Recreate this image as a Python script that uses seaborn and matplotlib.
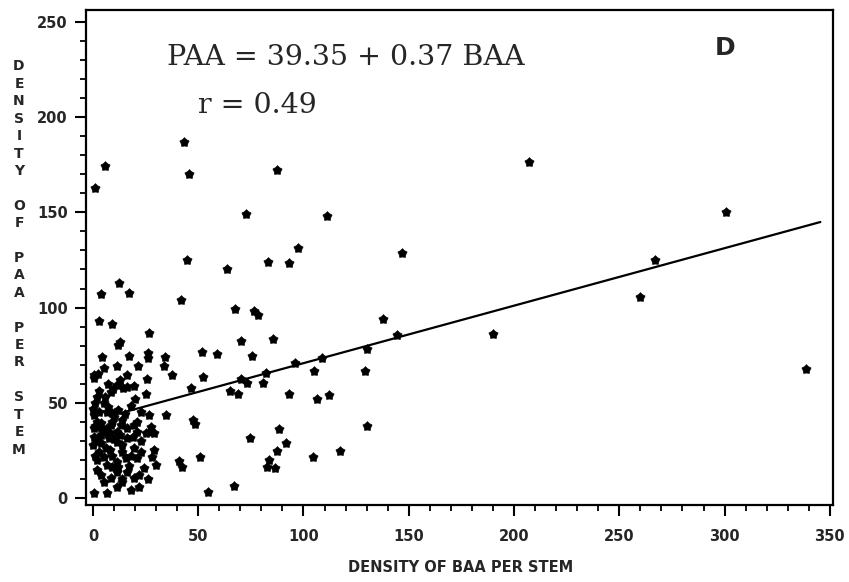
import numpy as np
import pandas as pd
import matplotlib
matplotlib.use("Agg")
import matplotlib.pyplot as plt
import seaborn as sns
from matplotlib.ticker import MultipleLocator

# ---------------- data ----------------
baa_values = [
    # scattered points
    43.2, 45.6, 87.2, 72.6, 111.0, 44.8, 97.5, 83.2, 93.1, 63.5, 147.0, 41.8,
    67.7, 76.6, 78.5, 137.8, 144.2, 190.1, 70.4, 85.3, 51.6, 58.7, 75.5, 130.0,
    96.1, 108.9, 37.4, 52.4, 82.1, 104.9, 129.2, 70.1, 73.4, 80.9, 46.4, 65.0,
    68.7, 93.2, 106.2, 112.2, 47.6, 48.4, 130.0, 74.5, 88.5, 91.6, 87.5, 83.7,
    82.5, 86.4, 104.3, 117.3, 41.0, 42.1, 50.8, 54.8, 67.0,
    207.0, 300.9, 266.9, 259.7, 338.6,
    5.7, 1.0, 12.3, 3.9, 17.1, 2.8, 9.2, 26.6,
    # dense cluster near the origin
    12.8, 12.0, 4.1, 17.1, 26.3, 26.3, 34.4, 33.6, 5.3, 11.2, 21.3,
    0.5, 2.5, 16.2, 25.6, 0.3, 19.3, 14.4, 9.6, 16.3, 11.5, 8.4, 25.1, 2.0, 5.5,
    5.2, 18.2, 0.0, 26.5, 34.6, 8.9, 6.8, 0.5, 10.0,
    3.7, 8.4, 13.1, 19.5, 27.4, 0.3, 16.3, 5.2, 11.5, 21.0, 25.0, 29.0, 27.0,
    0.5, 7.6, 16.3, 11.5, 3.7, 0.0, 2.0, 4.0, 6.0, 2.0, 9.0, 14.0, 13.0, 19.0, 23.0,
    19.5, 29.0, 28.2, 29.8, 5.2, 2.0, 6.8, 2.0, 11.5, 15.5, 21.0, 24.2, 11.5,
    16.3, 19.5, 8.4, 13.9, 21.8, 11.5, 5.2, 0.5, 6.5, 17.9,
    3.0, 8.0, 14.0, 17.0, 22.0, 26.0, 9.0, 4.0, 14.0, 18.0, 23.0,
    1.0, 3.0, 7.0, 12.0, 1.0, 4.0, 8.0, 10.0, 14.0, 6.0, 1.0, 9.0, 12.0,
    3.0, 7.0, 13.0, 20.0, 23.0, 21.0, 15.0,
]
paa_values = [
    187.1, 170.2, 172.3, 149.2, 148.3, 125.0, 131.5, 124.1, 123.2, 120.1, 128.5, 104.0,
    99.3, 98.4, 95.9, 93.8, 85.6, 86.0, 82.6, 83.7, 76.5, 75.5, 74.6, 78.1,
    70.7, 73.7, 64.6, 63.7, 65.8, 66.7, 66.7, 62.3, 60.6, 60.6, 57.6, 56.4,
    54.6, 54.6, 52.0, 53.9, 41.0, 38.7, 38.0, 31.7, 36.1, 29.1, 24.9, 20.0,
    16.5, 15.9, 21.7, 24.9, 19.4, 16.5, 21.7, 3.3, 6.3,
    176.5, 150.0, 125.0, 105.7, 67.6,
    174.4, 163.0, 113.1, 107.0, 107.8, 93.1, 91.2, 86.5,
    82.1, 80.5, 74.2, 74.4, 76.0, 73.4, 74.0, 69.2, 68.5, 69.4, 69.4,
    64.5, 65.0, 64.6, 62.4, 63.0, 58.6, 57.6, 57.1, 58.5, 59.3, 55.8, 54.8, 53.2, 53.2,
    49.7, 48.5, 46.5, 43.8, 43.8, 44.5, 45.3, 43.6, 42.7,
    39.2, 38.3, 38.3, 38.3, 37.5, 36.6, 36.6, 34.8, 34.8, 34.8, 34.0, 34.0, 34.5,
    32.2, 31.3, 31.3, 29.6, 28.7, 27.8, 30.0, 33.0, 36.0, 40.0, 40.0, 41.0, 33.0, 32.0, 30.0,
    26.1, 25.2, 21.7, 17.3, 21.7, 20.0, 17.3, 14.7, 19.1, 20.8, 20.8, 15.6, 13.8,
    13.8, 10.3, 10.3, 8.6, 5.9, 5.9, 8.6, 2.5, 2.5, 4.2,
    24.0, 25.0, 24.0, 17.0, 12.0, 10.0, 16.0, 12.0, 10.0, 22.0, 24.0,
    50.0, 45.0, 48.0, 46.0, 38.0, 37.0, 34.0, 31.0, 28.0, 26.0, 22.0, 22.0, 16.0,
    56.0, 60.0, 62.0, 52.0, 45.0, 40.0, 44.0,
]

# drawn regression line
fit_intercept = 40.6
fit_slope = 0.302
fit_baa_range = [10.0, 345.5]

x_ticks = [0, 50, 100, 150, 200, 250, 300, 350]
y_ticks = [0, 50, 100, 150, 200, 250]

equation_text = "PAA = 39.35 + 0.37 BAA"
r_text = "r = 0.49"
panel_text = "D"
x_title = "DENSITY OF BAA PER STEM"
y_title = "DENSITY OF PAA PER STEM"

# ---------------- figure ----------------
sns.set_style("ticks")
plt.rcParams["font.family"] = ["DejaVu Sans"]

W, H = 849, 582
fig = plt.figure(figsize=(W / 100, H / 100), dpi=100)
ax = fig.add_axes([86 / W, 1 - 505 / H, (833 - 86) / W, (505 - 10) / H])

df = pd.DataFrame({"BAA": baa_values, "PAA": paa_values})

# star-pentagon marker
ang_outer = np.pi / 2 + np.arange(5) * 2 * np.pi / 5
ang_inner = ang_outer + np.pi / 5
verts = []
for ao, ai in zip(ang_outer, ang_inner):
    verts.append((np.cos(ao), np.sin(ao)))
    verts.append((0.72 * np.cos(ai), 0.72 * np.sin(ai)))
verts.append(verts[0])

sns.scatterplot(data=df, x="BAA", y="PAA", ax=ax, marker=verts, s=50,
                color="black", edgecolor="black", linewidth=0.4, legend=False, zorder=3)

line_df = pd.DataFrame({"BAA": fit_baa_range})
line_df["PAA"] = fit_intercept + fit_slope * line_df["BAA"]
sns.lineplot(data=line_df, x="BAA", y="PAA", ax=ax, color="black", linewidth=1.6, zorder=2)

ax.set_xlim(-3.3, 351.5)
ax.set_ylim(-3.7, 256.3)
ax.set_xticks(x_ticks)
ax.set_yticks(y_ticks)
ax.xaxis.set_minor_locator(MultipleLocator(10))
ax.yaxis.set_minor_locator(MultipleLocator(10))
ax.tick_params(which="major", direction="out", length=8, width=1.5, color="black",
               labelsize=10.5, pad=5)
ax.tick_params(axis="x", which="major", pad=9)
ax.tick_params(which="minor", direction="out", length=4, width=1.3, color="black")
for lab in ax.get_xticklabels() + ax.get_yticklabels():
    lab.set_fontweight("bold")
for sp in ax.spines.values():
    sp.set_visible(True)
    sp.set_linewidth(1.6)
    sp.set_color("black")
ax.set_xlabel("")
ax.set_ylabel("")

fig.text((327 + 595) / 2 / W, 1 - 568 / H, x_title, ha="center", va="center",
         fontsize=10.5, fontweight="bold", family=["DejaVu Sans"])
fig.text(19 / W, 1 - 258 / H, "\n".join(list(y_title)), ha="center", va="center",
         fontsize=10, fontweight="bold", linespacing=1.31, family=["DejaVu Sans"])

ax.text(0.1084, 0.889, equation_text, transform=ax.transAxes, ha="left", va="baseline",
        fontsize=20.5, family=["DejaVu Serif"])
ax.text(0.150, 0.792, r_text, transform=ax.transAxes, ha="left", va="baseline",
        fontsize=20.5, family=["DejaVu Serif"])
ax.text(0.855, 0.923, panel_text, transform=ax.transAxes, ha="center", va="center",
        fontsize=18, fontweight="bold", family=["DejaVu Sans"])

fig.savefig("out.png", dpi=100)
